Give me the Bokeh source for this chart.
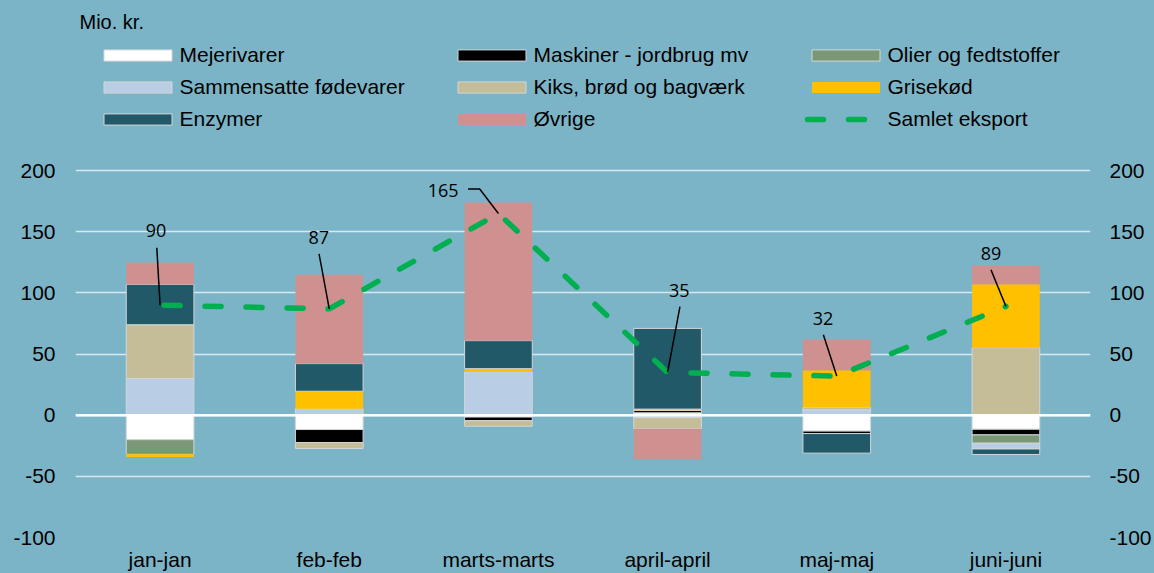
import numpy as np
from bokeh.plotting import figure
from bokeh.models import (FixedTicker, LinearAxis, Legend, LegendItem, Span, Label, Range1d)
from bokeh.core.properties import value
from bokeh.embed import file_html
from bokeh.resources import INLINE

# ---------------- data ----------------
categories = ["jan-jan", "feb-feb", "marts-marts", "april-april", "maj-maj", "juni-juni"]
mejerivarer = [-20.0, -11.7, -1.5, 2.0, -13.0, -11.5]
maskiner = [0.0, -10.6, -3.0, 2.0, -2.0, -4.6]
olier = [-12.0, 0.0, 0.0, 0.0, 0.0, -6.8]
sammensatte = [30.0, 5.4, 35.4, -2.0, 4.5, -4.7]
kiks = [44.0, -4.9, -4.5, -9.0, 2.0, 55.2]
grisekod = [-2.2, 14.2, 2.7, 1.0, 30.2, 52.0]
enzymer = [33.0, 22.6, 22.9, 66.0, -16.0, -4.5]
ovrige = [18.0, 72.6, 113.0, -25.0, 25.2, 15.2]
samlet_eksport = [90, 87, 165, 35, 32, 89]
y_ticks = [-100, -50, 0, 50, 100, 150, 200]

series_names = ["Mejerivarer", "Maskiner - jordbrug mv", "Olier og fedtstoffer",
                "Sammensatte fødevarer", "Kiks, brød og bagværk", "Grisekød",
                "Enzymer", "Øvrige"]
series_values = [mejerivarer, maskiner, olier, sammensatte, kiks, grisekod, enzymer, ovrige]

# ---------------- style ----------------
BG = "#7BB4C7"
colors = ["#FFFFFF", "#000000", "#7A9776", "#B9CDE5", "#C4BD97", "#FFC000", "#215968", "#CF9190"]
has_border = [True, True, True, True, True, False, True, False]
FONT = "Liberation Sans"

W, H = 1154, 573
LEFT, RIGHT, TOP, BOTTOM = 75, 62, 0, 35
frame_w = W - LEFT - RIGHT
frame_h = H - TOP - BOTTOM
PX_Y = 1.225                       # pixels per unit on the value axis
PX_X = frame_w / len(categories)   # pixels per category
y_start = -100
y_end = y_start + frame_h / PX_Y

# label placement, in pixel offsets from each point (dx, dy; negative dy = up)
label_off = [(-4, -75), (-10.5, -71.7), (-55.4, -22.9), (11.75, -82), (-13.75, -57.5), (-15, -53.3)]
leader_paths = [
    [(-3.3, -57.5), (0, 0)],
    [(-10.2, -55), (0, 0)],
    [(-30.4, -24.6), (-18.75, -24.6), (0, 0)],
    [(12.4, -66), (0, 0)],
    [(-13.4, -41.5), (0, 0)],
    [(-15, -36.7), (0, 0)],
]

p = figure(width=W, height=H, output_backend="svg", toolbar_location=None,
           x_range=Range1d(0, len(categories)), y_range=Range1d(y_start, y_end),
           min_border_left=LEFT, min_border_right=RIGHT, min_border_top=TOP,
           min_border_bottom=BOTTOM, title=None)
p.background_fill_color = BG
p.border_fill_color = BG
p.outline_line_color = None

xs = np.arange(len(categories)) + 0.5

pos = np.zeros(len(categories))
neg = np.zeros(len(categories))
renderers = []
for name, vals, col, brd in zip(series_names, series_values, colors, has_border):
    v = np.array(vals, dtype=float)
    bottom = np.where(v >= 0, pos, neg)
    top = bottom + v
    pos = pos + np.clip(v, 0, None)
    neg = neg + np.clip(v, None, 0)
    r = p.vbar(x=xs, bottom=bottom, top=top, width=0.4, fill_color=col,
               line_color="#D2D6D8" if brd else None, line_width=1)
    renderers.append(r)

line_r = p.line(xs, samlet_eksport, line_color="#00B050", line_width=5.5,
                line_dash="16 25", line_dash_offset=37, line_cap="round")

# leader lines
lx, ly = [], []
for xc, v, path in zip(xs, samlet_eksport, leader_paths):
    lx.append([xc + dx / PX_X for dx, dy in path])
    ly.append([v - dy / PX_Y for dx, dy in path])
p.multi_line(lx, ly, line_color="black", line_width=1.5)

tx = [xc + o[0] / PX_X for xc, o in zip(xs, label_off)]
ty = [v - o[1] / PX_Y for v, o in zip(samlet_eksport, label_off)]
p.text(x=tx, y=ty, text=[str(v) for v in samlet_eksport], text_font=value("Open Sans"),
       text_font_size="18px", text_align="center", text_baseline="middle", text_color="black")

p.add_layout(Span(location=0, dimension="width", line_color="white", line_width=2.5))

# axes
p.xaxis.ticker = FixedTicker(ticks=list(xs))
p.xaxis.major_label_overrides = {float(x): c for x, c in zip(xs, categories)}
p.xaxis.major_label_standoff = 10
right_axis = LinearAxis()
p.add_layout(right_axis, "right")
for ax in [p.yaxis[0], right_axis]:
    ax.ticker = FixedTicker(ticks=y_ticks)
    ax.major_label_overrides = {t: str(t) for t in y_ticks}
p.yaxis[0].major_label_standoff = 20
right_axis.major_label_standoff = 19
for ax in [p.xaxis[0], p.yaxis[0], right_axis]:
    ax.axis_line_color = None
    ax.major_tick_line_color = None
    ax.minor_tick_line_color = None
    ax.major_tick_out = 0
    ax.major_tick_in = 0
    ax.major_label_text_font = FONT
    ax.major_label_text_font_size = "21px"
    ax.major_label_text_color = "black"

p.xgrid.grid_line_color = None
p.ygrid.ticker = FixedTicker(ticks=y_ticks)
p.ygrid.grid_line_color = "#D6E9EF"
p.ygrid.grid_line_width = 1.5

# legend (area glyphs are drawn inset by 10% of the glyph box)
items = [LegendItem(label=n, renderers=[r]) for n, r in zip(series_names, renderers)]
items.append(LegendItem(label="Samlet eksport", renderers=[line_r]))
legend = Legend(items=items, location=(19.5, 406), orientation="horizontal", ncols=3,
                glyph_width=85, glyph_height=14, label_standoff=0, label_width=261,
                label_height=24, spacing=8, padding=0, margin=0,
                background_fill_alpha=0, border_line_alpha=0,
                label_text_font=FONT, label_text_font_size="21px", label_text_color="black")
p.add_layout(legend)

p.add_layout(Label(x=4, y=frame_h - 22.7, x_units="screen", y_units="screen", text="Mio. kr.",
                   text_font=FONT, text_font_size="20px", text_baseline="middle",
                   text_color="black"))

html = file_html(p, INLINE)
style = "<style>html, body { background-color: %s !important; }</style>" % BG
html = html.replace("</head>", style + "</head>", 1)
open("out.html", "w").write(html)
